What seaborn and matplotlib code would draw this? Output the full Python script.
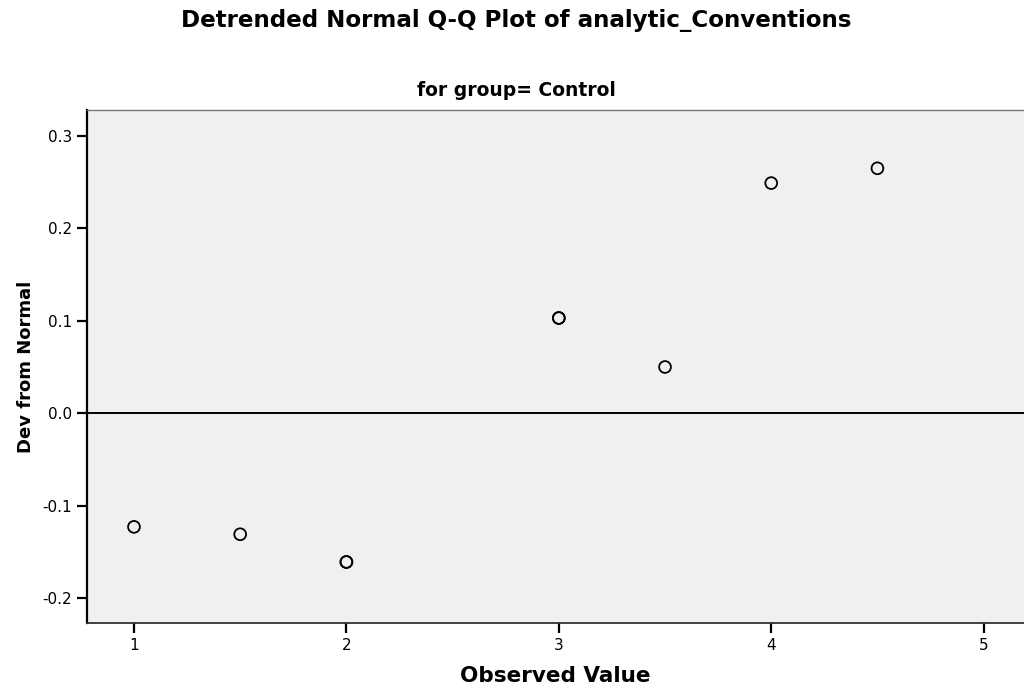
import matplotlib
matplotlib.use('Agg')
import matplotlib.pyplot as plt
import seaborn as sns
import pandas as pd

# observed values and deviation from normal (points at 2 and 3 are doubled)
observed = [1.0, 1.5, 2.0, 2.0, 3.0, 3.0, 3.5, 4.0, 4.5]
dev = [-0.123, -0.131, -0.161, -0.161, 0.103, 0.103, 0.050, 0.249, 0.265]
x_ticks = [1, 2, 3, 4, 5]
y_ticks = [-0.2, -0.1, 0.0, 0.1, 0.2, 0.3]
y_labels = ['-0.2', '-0.1', '0.0', '0.1', '0.2', '0.3']

df = pd.DataFrame({'Observed Value': observed, 'Dev from Normal': dev})

sns.set_style('white')
plt.rcParams['font.family'] = ['DejaVu Sans']
plt.rcParams['text.color'] = 'black'
plt.rcParams['axes.labelcolor'] = 'black'
plt.rcParams['xtick.color'] = 'black'
plt.rcParams['ytick.color'] = 'black'

fig = plt.figure(figsize=(10.24, 6.88), dpi=100)
ax = fig.add_axes([0.085, 0.0945, 0.915, 0.7455])
ax.set_facecolor('#f0f0f0')

ax.axhline(0, color='black', lw=1.4, zorder=1)
sns.scatterplot(data=df, x='Observed Value', y='Dev from Normal', ax=ax,
                marker='o', s=72, facecolor='none', edgecolor='black',
                linewidth=1.3, zorder=3)

ax.set_xlim(0.779, 5.19)
ax.set_ylim(-0.227, 0.328)
ax.set_xticks(x_ticks)
ax.set_yticks(y_ticks)
ax.set_yticklabels(y_labels)
ax.tick_params(axis='both', direction='out', length=7, width=1.6, labelsize=11,
               color='black', pad=4, bottom=True, left=True)

ax.spines['right'].set_visible(False)
ax.spines['left'].set_color('black'); ax.spines['left'].set_linewidth(1.6)
ax.spines['bottom'].set_color('#333333'); ax.spines['bottom'].set_linewidth(1.3)
ax.spines['top'].set_color('#777777'); ax.spines['top'].set_linewidth(1.0)

ax.set_xlabel('Observed Value', fontsize=15.5, fontweight='bold', labelpad=9)
ax.set_ylabel('Dev from Normal', fontsize=13, fontweight='bold', labelpad=5)
fig.text(0.504, 0.868, 'for group= Control', ha='center', va='center',
         fontsize=13.5, fontweight='bold')
fig.text(0.504, 0.97, 'Detrended Normal Q-Q Plot of analytic_Conventions',
         ha='center', va='center', fontsize=16.6, fontweight='bold')

fig.savefig('out.png', dpi=100)
